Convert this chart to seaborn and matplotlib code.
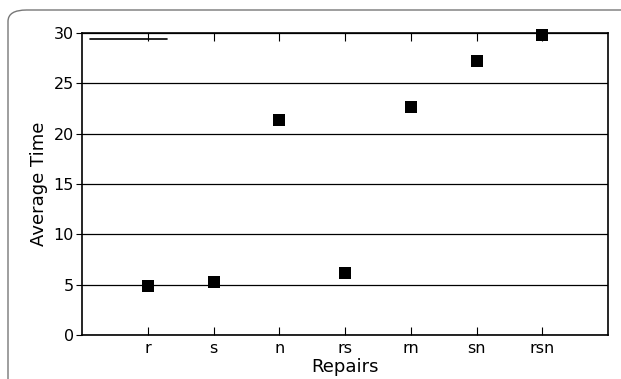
import matplotlib
matplotlib.use("Agg")
import matplotlib.pyplot as plt
from matplotlib.patches import FancyBboxPatch
from matplotlib.lines import Line2D
import seaborn as sns
import pandas as pd

# data
repairs = ["r", "s", "n", "rs", "rn", "sn", "rsn"]
avg_time = [4.87, 5.23, 21.35, 6.2, 22.6, 27.2, 29.8]

df = pd.DataFrame({"Repairs": repairs, "Average Time": avg_time})
df["pos"] = range(len(repairs))

sns.set_style("white")
plt.rcParams["font.family"] = ["DejaVu Sans"]
plt.rcParams["text.color"] = "black"
plt.rcParams["axes.labelcolor"] = "black"
plt.rcParams["xtick.color"] = "black"
plt.rcParams["ytick.color"] = "black"

fig = plt.figure(figsize=(6.21, 3.79), dpi=100)
ax = fig.add_axes([82 / 621, (379 - 335) / 379, (608 - 82) / 621, (335 - 33) / 379])

# rounded figure frame (cut off at right/bottom)
frame = FancyBboxPatch((8 / 621, -0.2), 1.2, 1.2 - 10 / 379,
                       boxstyle="round,pad=0,rounding_size=0.03",
                       transform=fig.transFigure, fill=False,
                       edgecolor="#777777", linewidth=1.0, clip_on=False)
fig.patches.append(frame)

sns.scatterplot(data=df, x="pos", y="Average Time", marker="s", color="black",
                s=75, edgecolor="black", linewidth=0, ax=ax, zorder=3, clip_on=False)

ax.set_xlim(-1, 7)
ax.set_ylim(0, 30)
ax.set_xticks(df["pos"])
ax.set_xticklabels(repairs)
ax.set_yticks(range(0, 31, 5))
ax.yaxis.grid(True, color="black", linewidth=0.9)
ax.set_axisbelow(True)

for sp in ax.spines.values():
    sp.set_visible(True)
    sp.set_color("black")
    sp.set_linewidth(1.2)

ax.tick_params(axis="x", direction="in", length=6, top=True, bottom=True,
               labelsize=11.5, pad=4)
ax.tick_params(axis="y", direction="out", length=4, left=True, labelsize=11.5,
               pad=2)

ax.set_xlabel("Repairs", fontsize=13, labelpad=2)
ax.set_ylabel("Average Time", fontsize=13, labelpad=4)

# empty legend entry (just the line handle) in the corner
ax.legend(handles=[Line2D([], [], color="black", linewidth=1.2)], labels=[""],
          loc="upper left", frameon=False, handlelength=5.5,
          bbox_to_anchor=(0.005, 1.018), borderaxespad=0)

fig.savefig("out.png", dpi=100)
